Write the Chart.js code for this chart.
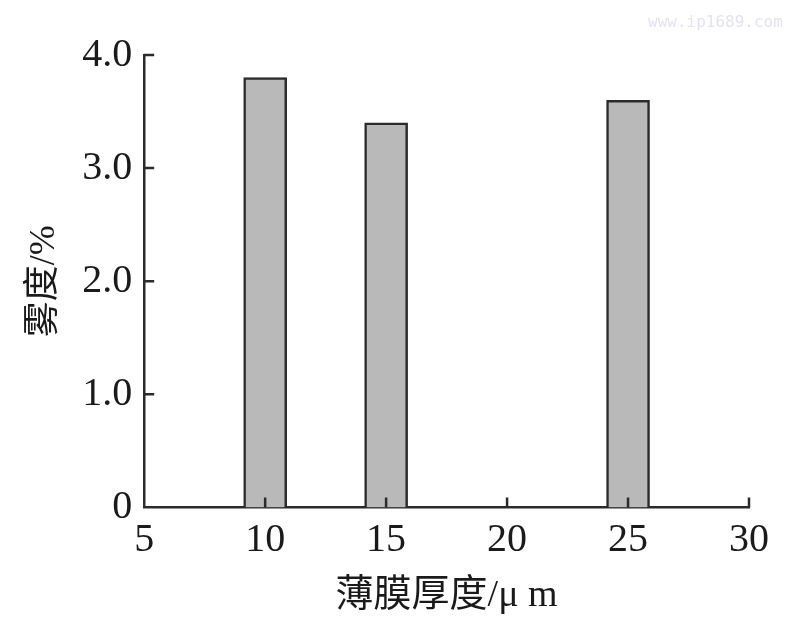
<!DOCTYPE html>
<html>
<head>
<meta charset="utf-8">
<script src="https://cdn.jsdelivr.net/npm/chart.js@4/dist/chart.umd.min.js"></script>
<style>
  html, body { margin: 0; padding: 0; background: #fff; }
  #wrap { position: relative; width: 797px; height: 638px; }
  #mark {
    position: absolute; left: 648px; top: 12px;
    font: 16px "DejaVu Sans Mono", monospace; color: #e2e2f4;
  }
</style>
</head>
<body>
<div id="wrap">
  <canvas id="haze" width="797" height="638"></canvas>
  <div id="mark">www.ip1689.com</div>
</div>
<script>
"use strict";

// film thickness (um) and haze (%)
const thickness = [10, 15, 25];
const haze = [3.8, 3.4, 3.6];
const xTicks = [5, 10, 15, 20, 25, 30];
const yTicks = [0, 1, 2, 3, 4];

const axisColor = "#2b2b2b";
const serif = "'Liberation Serif', 'Times New Roman', serif";
const cjk = "'Liberation Serif', 'Noto Sans CJK SC', serif";

// short ticks pointing into the plot, drawn after the bars
const innerTicks = {
  id: "innerTicks",
  afterDatasetsDraw(chart) {
    const { ctx, chartArea, scales } = chart;
    ctx.save();
    ctx.strokeStyle = axisColor;
    ctx.lineWidth = 2.5;
    ctx.beginPath();
    for (const v of xTicks) {
      if (v === 5) continue;
      const px = scales.x.getPixelForValue(v);
      ctx.moveTo(px, chartArea.bottom);
      ctx.lineTo(px, chartArea.bottom - 10);
    }
    for (const v of yTicks) {
      if (v === 0) continue;
      const py = scales.y.getPixelForValue(v);
      ctx.moveTo(chartArea.left, py);
      ctx.lineTo(chartArea.left + 10, py);
    }
    ctx.stroke();
    ctx.restore();
  }
};

const ctx = document.getElementById("haze").getContext("2d");

const hazeChart = new Chart(ctx, {
  type: "bar",
  data: {
    datasets: [
      {
        label: "雾度",
        data: thickness.map((t, i) => ({ x: t, y: haze[i] })),
        backgroundColor: "#b9b9b9",
        borderColor: axisColor,
        borderWidth: 2.5,
        barThickness: 43
      }
    ]
  },
  options: {
    responsive: false,
    animation: false,
    layout: { padding: { top: 55, right: 48, left: 23, bottom: 19 } },
    plugins: {
      legend: { display: false },
      tooltip: { enabled: false }
    },
    scales: {
      x: {
        type: "linear",
        offset: false,
        min: 5,
        max: 30,
        afterBuildTicks: axis => {
          axis.ticks = xTicks.map(v => ({ value: v }));
        },
        grid: { display: false, drawTicks: false, tickLength: 0 },
        border: { color: axisColor, width: 2.5 },
        ticks: {
          color: "#1a1a1a",
          padding: 13,
          font: { family: serif, size: 40, lineHeight: 1 },
          callback: v => String(v)
        },
        title: {
          display: true,
          text: "薄膜厚度/μ m",
          color: "#1a1a1a",
          padding: { top: 0, bottom: 0 },
          font: { family: cjk, size: 38 }
        }
      },
      y: {
        min: 0,
        max: 4,
        afterBuildTicks: axis => {
          axis.ticks = yTicks.map(v => ({ value: v }));
        },
        grid: { display: false, drawTicks: false, tickLength: 0 },
        border: { color: axisColor, width: 2.5 },
        ticks: {
          color: "#1a1a1a",
          padding: 12,
          font: { family: serif, size: 40 },
          callback: v => (v === 0 ? "0" : v.toFixed(1))
        },
        title: {
          display: true,
          text: "雾度/%",
          color: "#1a1a1a",
          padding: { top: 0, bottom: 4 },
          font: { family: cjk, size: 36 }
        }
      }
    }
  },
  plugins: [innerTicks]
});
</script>
</body>
</html>
